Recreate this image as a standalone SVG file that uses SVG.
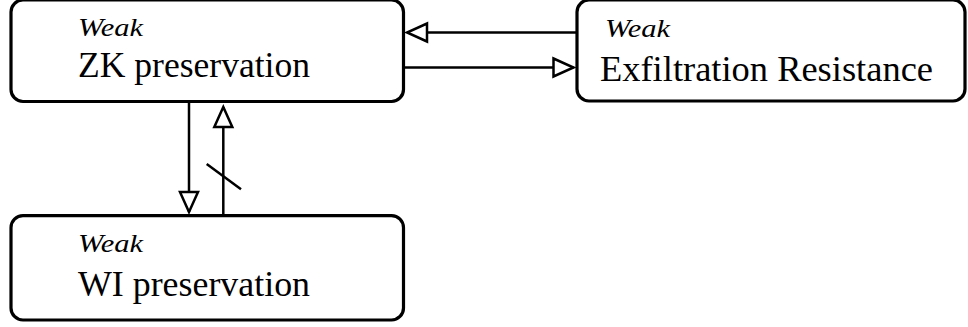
<svg xmlns="http://www.w3.org/2000/svg" width="968" height="327" viewBox="0 0 968 327">
<style>
.box{fill:#fff;stroke:#000;stroke-width:3.2}
.w{font-family:'Liberation Serif','Tinos','Times New Roman','Times','FreeSerif','Noto Serif','DejaVu Serif',serif;font-style:italic;font-size:25px;fill:#000}
.t{font-family:'Liberation Serif','Tinos','Times New Roman','Times','FreeSerif','Noto Serif','DejaVu Serif',serif;font-size:35px;fill:#000}
.c{stroke:#000;stroke-width:2.5;fill:none}
</style>
<defs>
<marker id="ah" markerUnits="userSpaceOnUse" viewBox="-3 -3 26 24" markerWidth="26" markerHeight="24" refX="20" refY="9" orient="auto">
<path d="M0,0 L20,9 L0,18 Z" fill="#fff" stroke="#000" stroke-width="2.5" stroke-linejoin="miter"/>
</marker>
</defs>
<rect width="968" height="327" fill="#fff"/>
<g id="zk">
<rect class="box" x="11" y="0" width="392.5" height="101.5" rx="12"/>
<text class="w" x="78" y="36" textLength="65" lengthAdjust="spacingAndGlyphs">Weak</text>
<text class="t" x="78" y="77" textLength="232" lengthAdjust="spacingAndGlyphs">ZK preservation</text>
</g>
<g id="exf">
<rect class="box" x="577" y="0" width="388" height="101" rx="12"/>
<text class="w" x="605" y="37" textLength="65" lengthAdjust="spacingAndGlyphs">Weak</text>
<text class="t" x="600" y="81" textLength="333" lengthAdjust="spacingAndGlyphs">Exfiltration Resistance</text>
</g>
<g id="wi">
<rect class="box" x="11" y="215.7" width="392.5" height="104.3" rx="12"/>
<text class="w" x="78" y="252" textLength="65" lengthAdjust="spacingAndGlyphs">Weak</text>
<text class="t" x="78" y="296" textLength="232" lengthAdjust="spacingAndGlyphs">WI preservation</text>
</g>
<g id="connectors">
<line class="c" x1="577" y1="32.5" x2="407" y2="32.5" marker-end="url(#ah)"/>
<line class="c" x1="404" y1="67.5" x2="573.5" y2="67.5" marker-end="url(#ah)"/>
<line class="c" x1="189" y1="102" x2="189" y2="212" marker-end="url(#ah)"/>
<line class="c" x1="223.3" y1="215" x2="223.3" y2="107" marker-end="url(#ah)"/>
<line class="c" x1="206.7" y1="164" x2="241" y2="189.3"/>
</g>
</svg>
